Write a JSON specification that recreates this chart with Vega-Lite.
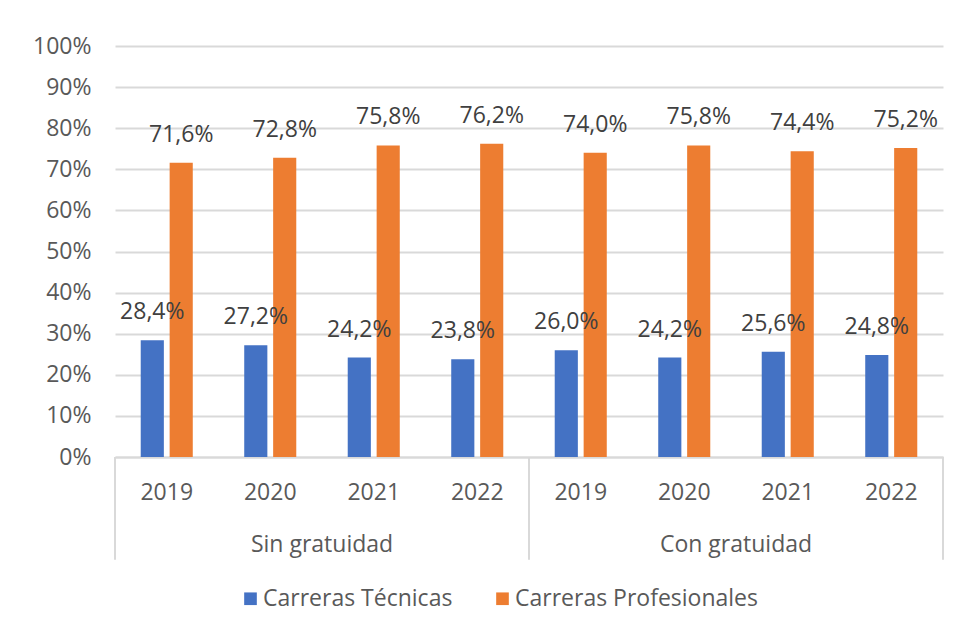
{
  "$schema": "https://vega.github.io/schema/vega-lite/v6.json",
  "autosize": "none",
  "width": 828,
  "height": 411,
  "padding": {"left": 115, "top": 46, "right": 21, "bottom": 180},
  "background": "white",
  "config": {
    "locale": {"number": {"decimal": ",", "thousands": ".", "grouping": [3], "currency": ["", "€"]}},
    "font": "Open Sans",
    "view": {"stroke": null},
    "text": {"font": "Open Sans"}
  },
  "datasets": {
    "main": [
      {"grupo": "Sin gratuidad", "anio": "2019", "serie": "Carreras Técnicas", "valor": 0.284},
      {"grupo": "Sin gratuidad", "anio": "2019", "serie": "Carreras Profesionales", "valor": 0.716},
      {"grupo": "Sin gratuidad", "anio": "2020", "serie": "Carreras Técnicas", "valor": 0.272},
      {"grupo": "Sin gratuidad", "anio": "2020", "serie": "Carreras Profesionales", "valor": 0.728},
      {"grupo": "Sin gratuidad", "anio": "2021", "serie": "Carreras Técnicas", "valor": 0.242},
      {"grupo": "Sin gratuidad", "anio": "2021", "serie": "Carreras Profesionales", "valor": 0.758},
      {"grupo": "Sin gratuidad", "anio": "2022", "serie": "Carreras Técnicas", "valor": 0.238},
      {"grupo": "Sin gratuidad", "anio": "2022", "serie": "Carreras Profesionales", "valor": 0.762},
      {"grupo": "Con gratuidad", "anio": "2019", "serie": "Carreras Técnicas", "valor": 0.260},
      {"grupo": "Con gratuidad", "anio": "2019", "serie": "Carreras Profesionales", "valor": 0.740},
      {"grupo": "Con gratuidad", "anio": "2020", "serie": "Carreras Técnicas", "valor": 0.242},
      {"grupo": "Con gratuidad", "anio": "2020", "serie": "Carreras Profesionales", "valor": 0.758},
      {"grupo": "Con gratuidad", "anio": "2021", "serie": "Carreras Técnicas", "valor": 0.256},
      {"grupo": "Con gratuidad", "anio": "2021", "serie": "Carreras Profesionales", "valor": 0.744},
      {"grupo": "Con gratuidad", "anio": "2022", "serie": "Carreras Técnicas", "valor": 0.248},
      {"grupo": "Con gratuidad", "anio": "2022", "serie": "Carreras Profesionales", "valor": 0.752}
    ],
    "grupos": [
      {"grupo": "Sin gratuidad", "clave": "Sin gratuidad|2020"},
      {"grupo": "Con gratuidad", "clave": "Con gratuidad|2020"}
    ],
    "sep": [
      {"clave": "Sin gratuidad|2019"},
      {"clave": "Con gratuidad|2019"}
    ],
    "sepEnd": [
      {"clave": "Con gratuidad|2022"}
    ]
  },
  "layer": [
    {
      "data": {"name": "main"},
      "transform": [{"calculate": "datum.grupo + '|' + datum.anio", "as": "clave"}],
      "mark": {"type": "bar"},
      "encoding": {
        "x": {
          "field": "clave", "type": "nominal",
          "scale": {"domain": ["Sin gratuidad|2019","Sin gratuidad|2020","Sin gratuidad|2021","Sin gratuidad|2022","Con gratuidad|2019","Con gratuidad|2020","Con gratuidad|2021","Con gratuidad|2022"], "paddingInner": 0, "paddingOuter": 0},
          "axis": {
            "title": null, "labelExpr": "split(datum.label, '|')[1]", "labelAngle": 0,
            "ticks": false, "domainColor": "#d9d9d9", "domainWidth": 2,
            "labelFontSize": 23, "labelColor": "#595959", "labelPadding": 24, "labelFont": "Open Sans"
          }
        },
        "xOffset": {
          "field": "serie", "type": "nominal",
          "scale": {"domain": ["Carreras Técnicas", "Carreras Profesionales"], "paddingInner": 0.2, "paddingOuter": 0.89}
        },
        "y": {
          "field": "valor", "type": "quantitative",
          "scale": {"domain": [0, 1]},
          "axis": {
            "title": null, "format": ".0%", "values": [0,0.1,0.2,0.3,0.4,0.5,0.6,0.7,0.8,0.9,1],
            "domain": false, "ticks": false, "gridColor": "#d9d9d9", "gridWidth": 2,
            "labelFontSize": 23, "labelColor": "#595959", "labelPadding": 24, "labelFont": "Open Sans"
          }
        },
        "color": {
          "field": "serie", "type": "nominal",
          "scale": {"domain": ["Carreras Técnicas", "Carreras Profesionales"], "range": ["#4472C4", "#ED7D31"]},
          "legend": {
            "title": null, "orient": "none", "direction": "horizontal",
            "legendX": 124, "legendY": 541, "labelLimit": 0,
            "symbolType": "square", "symbolSize": 160, "symbolStrokeWidth": 0,
            "labelFontSize": 23, "labelColor": "#595959", "labelFont": "Open Sans",
            "columnPadding": 38, "labelOffset": 1
          }
        }
      }
    },
    {
      "data": {"name": "main"},
      "transform": [{"calculate": "datum.grupo + '|' + datum.anio", "as": "clave"}],
      "mark": {"type": "text", "fontSize": 23, "color": "#404040", "baseline": "middle", "dy": -28},
      "encoding": {
        "x": {"field": "clave", "type": "nominal"},
        "xOffset": {"field": "serie", "type": "nominal"},
        "y": {"field": "valor", "type": "quantitative"},
        "text": {"field": "valor", "type": "quantitative", "format": ".1%"}
      }
    },
    {
      "data": {"name": "grupos"},
      "mark": {"type": "text", "fontSize": 23, "color": "#595959", "baseline": "middle"},
      "encoding": {
        "x": {"field": "clave", "type": "nominal", "bandPosition": 1},
        "y": {"datum": -0.215, "type": "quantitative"},
        "text": {"field": "grupo", "type": "nominal"}
      }
    },
    {
      "data": {"name": "sep"},
      "mark": {"type": "rule", "color": "#d9d9d9", "strokeWidth": 2},
      "encoding": {
        "x": {"field": "clave", "type": "nominal", "bandPosition": 0},
        "y": {"datum": 0, "type": "quantitative"},
        "y2": {"datum": -0.25}
      }
    },
    {
      "data": {"name": "sepEnd"},
      "mark": {"type": "rule", "color": "#d9d9d9", "strokeWidth": 2},
      "encoding": {
        "x": {"field": "clave", "type": "nominal", "bandPosition": 1},
        "y": {"datum": 0, "type": "quantitative"},
        "y2": {"datum": -0.25}
      }
    }
  ]
}
